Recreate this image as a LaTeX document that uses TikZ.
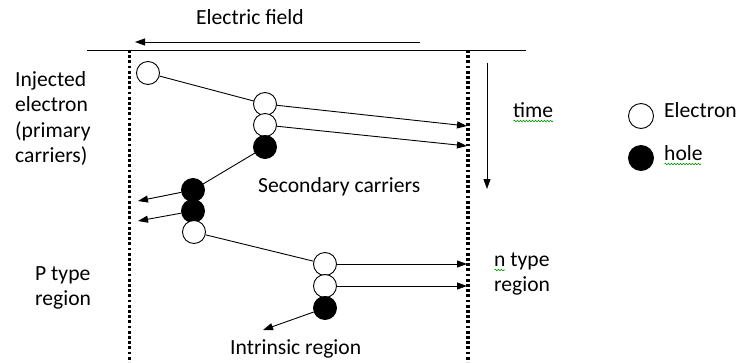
\documentclass[tikz,border=0pt]{standalone}
\usepackage{fontspec}
\setmainfont{Carlito}
\usetikzlibrary{arrows.meta,decorations.pathmorphing}
\begin{document}
\begin{tikzpicture}[x=1pt,y=-1pt,
  el/.style={circle,draw,fill=white,minimum size=23pt,inner sep=0pt,line width=0.9pt},
  ho/.style={circle,draw,fill=black,minimum size=23pt,inner sep=0pt,line width=0.9pt},
  dotline/.style={line width=3.2pt,dash pattern=on 2.8pt off 2.4pt},
  conn/.style={line width=0.9pt},
  arr/.style={line width=0.9pt,-{Triangle[length=10pt,width=7pt]}},
  lbl/.style={font=\fontsize{21.6}{25.5}\selectfont, align=left, inner sep=0pt},
  squig/.style={draw=green!60!black,decorate,decoration={snake,amplitude=0.8pt,segment length=3pt},line width=0.6pt}]
\useasboundingbox (0,0) rectangle (740,362);

% frame lines
\coordinate (topL) at (87,50);
\coordinate (topR) at (526,50);
\draw[line width=0.9pt] (topL) -- (topR);
\coordinate (efR) at (420,42);
\coordinate (efL) at (135,42);
\draw[arr] (efR) -- (efL);
\node[lbl,anchor=base] (ef) at (250,24.5) {Electric field};

\coordinate (dL1) at (129.5,50);
\coordinate (dL2) at (129.5,362);
\coordinate (dR1) at (468,50);
\coordinate (dR2) at (468,362);
\draw[dotline] (dL1) -- (dL2);
\draw[dotline] (dR1) -- (dR2);

% time arrow
\coordinate (t1) at (487,63);
\coordinate (t2) at (487,189);
\draw[arr] (t1) -- (t2);
\node[lbl,anchor=base west] (time) at (513,117) {time};
\draw[squig] (513.5,121) -- (553,121);

% legend
\node[el,minimum size=25pt] (lege) at (641,116) {};
\node[ho,minimum size=25pt] (legh) at (641,158) {};
\node[lbl,anchor=base west] (legetx) at (664,117) {Electron};
\node[lbl,anchor=base west] (leghtx) at (664,160) {hole};
\draw[squig] (664.5,164) -- (701,164);

% left labels
\node[lbl,anchor=base west] (inj) at (15,86) {Injected};
\node[lbl,anchor=base west] (inj2) at (15,111.5) {electron};
\node[lbl,anchor=base west] (inj3) at (15,137) {(primary};
\node[lbl,anchor=base west] (inj4) at (15,162.5) {carriers)};
\node[lbl,anchor=base west] (pt) at (35,280) {P type};
\node[lbl,anchor=base west] (pt2) at (35,305) {region};
\node[lbl,anchor=base west] (nt) at (494,266) {n type};
\node[lbl,anchor=base west] (nt2) at (494,291) {region};
\draw[squig] (494.5,270) -- (505,270);
\node[lbl,anchor=base west] (sec) at (258,192) {Secondary carriers};
\node[lbl,anchor=base west] (intr) at (230,354) {Intrinsic region};

% carriers
\node[el] (c0) at (148,73) {};
\coordinate (c1c) at (265,104);
\draw[conn] (c0) -- (c1c);
\node[el] (c1) at (265,104) {};
\node[el] (c2) at (265,125) {};
\node[ho] (h1) at (265,147) {};

\coordinate (a1) at (467,126);
\coordinate (a2) at (467,146);
\draw[arr] (c1) -- (a1);
\draw[arr] (c2) -- (a2);

\node[ho] (h2) at (193,190) {};
\node[ho] (h3) at (193,211) {};
\node[el] (e3) at (194,232) {};
\draw[conn] (h1) -- (h2);

\coordinate (b1) at (138,201);
\coordinate (b2) at (138,221);
\draw[arr] (h2) -- (b1);
\draw[arr] (h3) -- (b2);

\node[el] (e4) at (325,264) {};
\node[el] (e5) at (325,286) {};
\node[ho] (h4) at (325,308) {};
\draw[conn] (e3) -- (e4);

\coordinate (n1) at (467,264);
\coordinate (n2) at (467,286);
\draw[arr] (e4) -- (n1);
\draw[arr] (e5) -- (n2);

\coordinate (i1) at (263,330);
\draw[arr] (h4) -- (i1);
\end{tikzpicture}
\end{document}
